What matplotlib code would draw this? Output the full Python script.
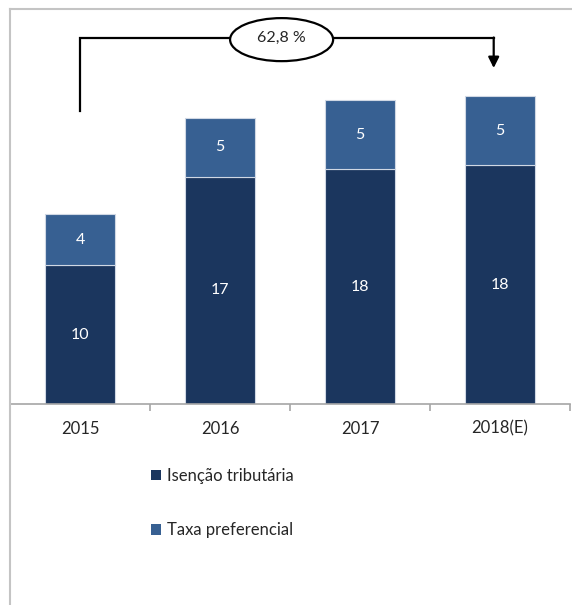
import matplotlib
matplotlib.use("Agg")
import matplotlib.pyplot as plt
from matplotlib.patches import Ellipse, Patch
from matplotlib.lines import Line2D

# dados (bilhões)
anos = ["2015", "2016", "2017", "2018(E)"]
isencao = [10.5, 17.2, 17.8, 18.1]
taxa = [3.9, 4.5, 5.2, 5.2]
rot_isencao = ["10", "17", "18", "18"]
rot_taxa = ["4", "5", "5", "5"]
variacao = "62,8 %"

c_escuro = "#1b365e"
c_claro = "#376092"

plt.rcParams['font.family'] = ['Lato', 'DejaVu Sans']

W, H = 572, 605
fig = plt.figure(figsize=(W / 100, H / 100), dpi=100)
ax = fig.add_axes([10 / W, (H - 404) / H, 560 / W, 395 / H])

x = range(len(anos))
ax.bar(x, isencao, width=0.5, color=c_escuro, edgecolor="#d0d8e4", linewidth=0.8)
ax.bar(x, taxa, width=0.5, bottom=isencao, color=c_claro, edgecolor="#d0d8e4", linewidth=0.8)

for i in x:
    ax.text(i, isencao[i] / 2, rot_isencao[i], ha="center", va="center",
            color="white", fontsize=11.5)
    ax.text(i, isencao[i] + taxa[i] / 2, rot_taxa[i], ha="center", va="center",
            color="white", fontsize=11.5)

ax.set_xlim(-0.5, 3.5)
ax.set_ylim(0, 29.92)
for s in ["top", "right", "left"]:
    ax.spines[s].set_visible(False)
ax.spines["bottom"].set_color("#a6a6a6")
ax.spines["bottom"].set_linewidth(1.2)
ax.set_yticks([])
ax.set_xticks(list(x))
ax.set_xticklabels(anos, fontsize=12, color="#262626")
ax.tick_params(axis="x", which="major", length=0, pad=12)
ax.set_xticks([-0.5, 0.5, 1.5, 2.5, 3.5], minor=True)
ax.tick_params(axis="x", which="minor", length=5, width=1.2, color="#a6a6a6")

# colchete com a variação 2015 -> 2018(E)
y_top = 27.7
ax.plot([0, 0, 2.955], [22.2, y_top, y_top], color="black", lw=1.6,
        solid_joinstyle="miter", clip_on=False)
ax.annotate("", xy=(2.955, 25.45), xytext=(2.955, y_top + 0.06),
            arrowprops=dict(arrowstyle="-|>", color="black", lw=1.6,
                            mutation_scale=16, shrinkA=0, shrinkB=0))
ax.add_patch(Ellipse((1.44, 27.6), 0.736, 3.26, facecolor="white",
                     edgecolor="black", lw=1.6, zorder=5, clip_on=False))
ax.text(1.44, 27.75, variacao, ha="center", va="center", fontsize=11.5,
        color="#262626", zorder=6)

# moldura
borda = "#c4c4c4"
fig.add_artist(Line2D([10 / W, 1], [1 - 9 / H, 1 - 9 / H], color=borda, lw=1.5))
fig.add_artist(Line2D([10 / W, 10 / W], [0, 1 - 9 / H], color=borda, lw=1.5))

# legenda
handles = [Patch(facecolor=c_escuro), Patch(facecolor=c_claro)]
fig.legend(handles, ["Isenção tributária", "Taxa preferencial"],
           loc="center left", bbox_to_anchor=(136 / W, 1 - 503 / H),
           frameon=False, fontsize=12, labelspacing=2.3,
           handlelength=0.6, handleheight=0.6, handletextpad=0.35,
           labelcolor="#262626")

fig.savefig("out.png", dpi=100)
